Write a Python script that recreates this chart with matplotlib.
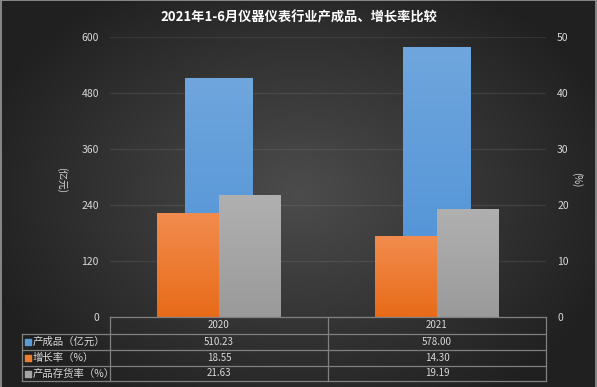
import numpy as np
import matplotlib.pyplot as plt
from matplotlib.colors import LinearSegmentedColormap

plt.rcParams['font.family'] = ['Noto Sans CJK SC', 'DejaVu Sans']

title = '2021年1-6月仪器仪表行业产成品、增长率比较'
years = ['2020', '2021']
output = [510.23, 578.00]      # 产成品（亿元）, left axis
growth = [18.55, 14.30]        # 增长率（%）, right axis
stock_rate = [21.63, 19.19]    # 产品存货率（%）, right axis
series_names = ['产成品（亿元）', '增长率（%）', '产品存货率（%）']
left_ticks = [0, 120, 240, 360, 480, 600]
right_ticks = [0, 10, 20, 30, 40, 50]

W, H = 597, 387
fig = plt.figure(figsize=(W / 100, H / 100), dpi=100)

# radial dark background
bg = fig.add_axes([0, 0, 1, 1], zorder=-10)
yy, xx = np.mgrid[0:1:200j, 0:1:300j]
r = np.sqrt(((xx - 0.5) / 0.75) ** 2 + ((yy - 0.5) / 0.85) ** 2)
bg_cmap = LinearSegmentedColormap.from_list('bg', ['#4c4c4c', '#202020'])
bg.imshow(r, cmap=bg_cmap, extent=[0, 1, 0, 1], aspect='auto', vmin=0, vmax=0.75)
bg.set_xlim(0, 1)
bg.set_ylim(0, 1)
bg.axis('off')
# light frame
bg.plot([0.001, 0.001, 0.999, 0.999], [0, 0.999, 0.999, 0], color='#9a9a9a', lw=1.2)


def fx(px):
    return px / W


def fy(py):
    return 1 - py / H


x0, x1, ytop, ybot = 110, 546, 37, 317
ax = fig.add_axes([fx(x0), fy(ybot), fx(x1) - fx(x0), (ybot - ytop) / H])
ax2 = ax.twinx()

x = np.arange(len(years))
wb, ws = 0.31, 0.284
grad = np.linspace(0, 1, 100).reshape(-1, 1)


def gradient_bars(a, bars, top, bottom):
    cm = LinearSegmentedColormap.from_list('g', [bottom, top])
    for b in bars:
        bx, by = b.get_x(), b.get_y()
        a.imshow(grad, cmap=cm, origin='lower', aspect='auto',
                 extent=[bx, bx + b.get_width(), by, by + b.get_height()], zorder=2)
        b.set_facecolor('none')


b1 = ax.bar(x, output, wb, color='#5b9bd5', zorder=2)
gradient_bars(ax, b1, '#6fa6dd', '#4b8fd6')
b2 = ax2.bar(x - ws / 2, growth, ws, color='#ed7d31', zorder=2)
gradient_bars(ax2, b2, '#f28c4e', '#e86b18')
b3 = ax2.bar(x + ws / 2, stock_rate, ws, color='#a5a5a5', zorder=2)
gradient_bars(ax2, b3, '#b0b0b0', '#9a9a9a')

ax.set_xlim(-0.5, 1.5)
ax.set_ylim(0, 600)
ax2.set_ylim(0, 50)
ax.set_yticks(left_ticks)
ax2.set_yticks(right_ticks)
ax.set_xticks([])
for a in (ax, ax2):
    a.patch.set_visible(False)
    for s in a.spines.values():
        s.set_visible(False)
    a.tick_params(length=0, labelsize=7.5, colors='#d9d9d9', pad=8)
ax.grid(axis='y', color='white', alpha=0.08, lw=1)
ax.set_axisbelow(True)

tc = '#d9d9d9'
fig.text(0.5, fy(17), title, ha='center', va='center', color='white',
         fontsize=9.5, fontweight='bold')
fig.text(fx(62), fy(180), '(亿元)', rotation=270, ha='center', va='center',
         color=tc, fontsize=7)
fig.text(fx(577), fy(180), '(%)', rotation=270, ha='center', va='center',
         color=tc, fontsize=7)

# data table under the chart
lc = '#808080'
row_y = [317, 334, 350, 366, 381]
col_x = [22, 110, 328, 546]
tb = fig.add_axes([0, 0, 1, 1], zorder=5)
tb.set_xlim(0, W)
tb.set_ylim(H, 0)
tb.axis('off')
tb.plot([col_x[1], col_x[3]], [row_y[0]] * 2, color=lc, lw=0.9)
for yv in row_y[1:]:
    tb.plot([col_x[0], col_x[3]], [yv] * 2, color=lc, lw=0.9)
tb.plot([col_x[0]] * 2, [row_y[1], row_y[4]], color=lc, lw=0.9)
for xv in col_x[1:]:
    tb.plot([xv] * 2, [row_y[0], row_y[4]], color=lc, lw=0.9)

for j, yr in enumerate(years):
    cx = (col_x[j + 1] + col_x[j + 2]) / 2
    tb.text(cx, (row_y[0] + row_y[1]) / 2, yr, ha='center', va='center',
            color=tc, fontsize=7)
colors = ['#5b9bd5', '#ed7d31', '#a5a5a5']
for i, (name, vals, c) in enumerate(zip(series_names, [output, growth, stock_rate], colors)):
    cy = (row_y[i + 1] + row_y[i + 2]) / 2
    tb.scatter([28], [cy], marker='s', s=14, color=c)
    tb.text(33, cy, name, ha='left', va='center', color=tc, fontsize=7.5)
    for j, v in enumerate(vals):
        cx = (col_x[j + 1] + col_x[j + 2]) / 2
        tb.text(cx, cy, f'{v:.2f}', ha='center', va='center', color=tc, fontsize=7)

fig.savefig('out.png', dpi=100, facecolor='#2a2a2a')
